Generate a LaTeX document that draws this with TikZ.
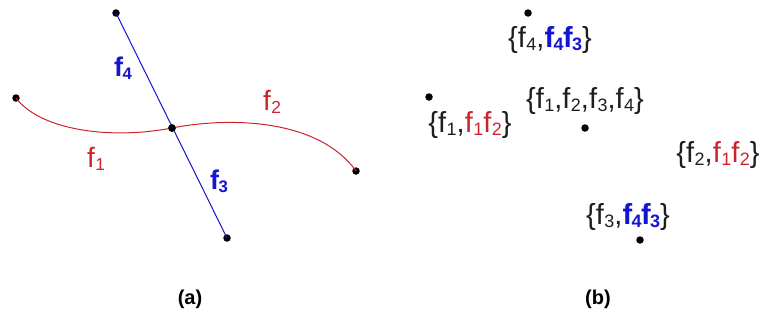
\documentclass[tikz,border=0pt]{standalone}
\usepackage{fontspec}
\setmainfont{Liberation Sans}
\usepackage{graphicx}
\definecolor{fred}{RGB}{205,35,45}
\definecolor{fblue}{RGB}{20,20,210}
\definecolor{ftext}{RGB}{30,30,30}
\newcommand\ffs[1]{f\kern0.5pt\raisebox{-0.2ex}{\scalebox{0.62}{#1}}}
\newcommand\bfs[1]{f\kern-0.6pt\raisebox{-0.2ex}{\scalebox{0.62}{#1}}}
\tikzset{
  dot/.style={circle,fill=black,inner sep=0pt,minimum size=7.5pt},
  lbl/.style={font=\fontsize{29}{31}\selectfont,inner sep=0pt,text=ftext},
  blbl/.style={font=\fontsize{27}{29}\selectfont\bfseries,inner sep=0pt,text=fblue},
  alb/.style={font=\fontsize{28}{30}\selectfont,inner sep=0pt,text=fred},
  captext/.style={font=\fontsize{20}{22}\selectfont\bfseries,inner sep=0pt},
}
\begin{document}
\begin{tikzpicture}[x=1pt,y=-1pt]
\useasboundingbox (0,0) rectangle (766,327);
% (a)
\node[dot] (t) at (116,13) {};
\node[dot] (c) at (172,128) {};
\node[dot] (b) at (227,238) {};
\node[dot] (l) at (16,98) {};
\node[dot] (r) at (356,171) {};
\draw[fred,line width=1pt] (l.center) .. controls (40,130) and (110,140) .. (c.center)
  .. controls (228,117) and (318,118) .. (r.center);
\draw[fblue,line width=1pt] (t.center) -- (b.center);
\node[dot] at (c) {};
\node[blbl] (f4) at (123,68) {\bfs{4}};
\node[blbl] (f3) at (219,181) {\bfs{3}};
\node[alb] (f2) at (272,102) {\ffs{2}};
\node[alb] (f1) at (96,159) {\ffs{1}};
\node[captext] (ca) at (190,299) {(a)};
% (b)
\node[dot] (p4) at (528,13) {};
\node[lbl] (s4) at (550,40) {\{\ffs{4},\textcolor{fblue}{\bfseries\bfs{4}\kern-0.5pt\bfs{3}}\}};
\node[dot] (p1) at (429,97) {};
\node[lbl] (s1) at (470,125) {\{\ffs{1},\textcolor{fred}{\ffs{1}\ffs{2}}\}};
\node[lbl] (sc) at (585,101) {\{\ffs{1},\ffs{2},\ffs{3},\ffs{4}\}};
\node[dot] (pc) at (585,128) {};
\node[lbl] (s2) at (718,155) {\{\ffs{2},\textcolor{fred}{\ffs{1}\ffs{2}}\}};
\node[lbl] (s3) at (628,217) {\{\ffs{3},\textcolor{fblue}{\bfseries\bfs{4}\kern-0.5pt\bfs{3}}\}};
\node[dot] (p3) at (640,240) {};
\node[captext] (cb) at (598,299) {(b)};
\end{tikzpicture}
\end{document}
